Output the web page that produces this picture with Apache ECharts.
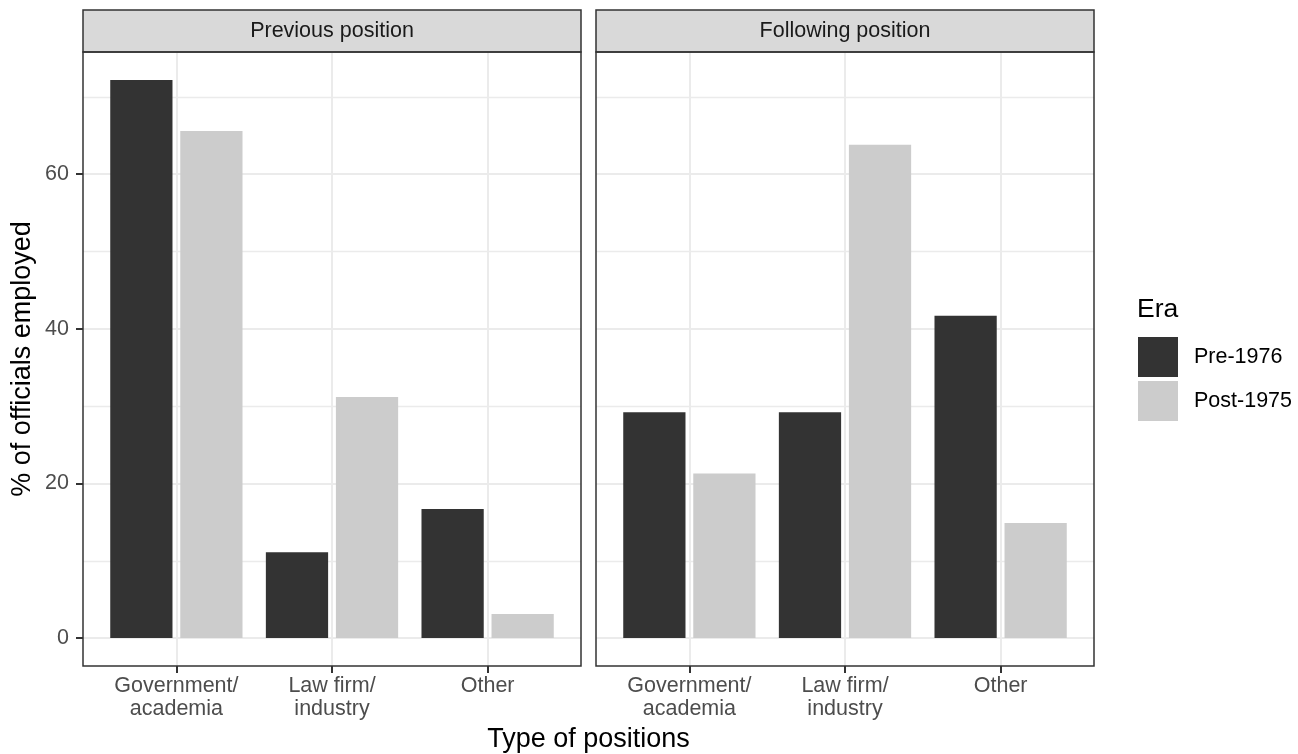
<!DOCTYPE html>
<html><head><meta charset="utf-8">
<script src="https://cdn.jsdelivr.net/npm/echarts@6/dist/echarts.min.js"></script>
<style>html,body{margin:0;padding:0;background:#fff}#c{width:1298px;height:754px}</style>
</head><body><div id="c"></div>
<script>
// ---- data ----
const facets = ['Previous position', 'Following position'];
const categories = ['Government/\nacademia', 'Law firm/\nindustry', 'Other'];
const eras = ['Pre-1976', 'Post-1975'];
const prevPre = [72.2, 11.1, 16.7];
const prevPost = [65.6, 31.2, 3.1];
const follPre = [29.2, 29.2, 41.7];
const follPost = [21.3, 63.8, 14.9];
const yTicks = [0, 20, 40, 60];
const xTitle = 'Type of positions';
const yTitle = '% of officials employed';
const legendTitle = 'Era';
const colors = ['#333333', '#CCCCCC'];

// ---- layout / style ----
const FONT = "'Liberation Sans', Arial, Helvetica, sans-serif";
const panelData = [[prevPre, prevPost], [follPre, follPost]];
const dataMax = Math.max(...prevPre, ...prevPost, ...follPre, ...follPost);
const yMin = -0.05 * dataMax, yMax = dataMax * 1.05;
const tickStep = yTicks[1] - yTicks[0];
const panelLefts = [83, 596], panelW = 498, panelTop = 52, panelH = 614, stripTop = 10;
const band = panelW / (categories.length - 1 + 1.2);

const grid = [], xAxis = [], yAxis = [], series = [], elements = [];
facets.forEach((f, p) => {
  const L = panelLefts[p];
  const gFrame = grid.length;
  grid.push({left: L, top: panelTop, width: panelW, height: panelH, show: false, containLabel: false, outerBoundsMode: 'none'});
  const gData = grid.length;
  grid.push({left: L + 0.6 * band, top: panelTop, width: (categories.length - 1) * band, height: panelH, show: false, containLabel: false, outerBoundsMode: 'none'});
  xAxis.push({gridIndex: gFrame, type: 'value', min: 0, max: 1, show: false});
  yAxis.push({
    gridIndex: gFrame, type: 'value', min: yMin, max: yMax,
    splitNumber: 4, minInterval: tickStep, maxInterval: tickStep,
    axisLine: {show: false},
    axisTick: {show: p === 0, customValues: yTicks, length: 7, lineStyle: {color: '#333333', width: 2}},
    axisLabel: {show: p === 0, customValues: yTicks,
      fontSize: 21.5, color: '#4D4D4D', margin: 14, fontFamily: FONT},
    splitLine: {show: true, lineStyle: {color: '#EBEBEB', width: 2}},
    minorTick: {show: false, splitNumber: 2},
    minorSplitLine: {show: true, lineStyle: {color: '#EBEBEB', width: 1.3}}
  });
  xAxis.push({
    gridIndex: gData, type: 'category', data: categories, boundaryGap: false,
    position: 'bottom',
    axisLine: {show: false, onZero: false},
    axisTick: {show: true, interval: 0, length: 7, lineStyle: {color: '#333333', width: 2}},
    axisLabel: {interval: 0, fontSize: 21.5, color: '#4D4D4D', lineHeight: 23, margin: 9, fontFamily: FONT},
    splitLine: {show: true, interval: 0, lineStyle: {color: '#EBEBEB', width: 2}}
  });
  yAxis.push({gridIndex: gData, type: 'value', min: yMin, max: yMax, show: false});
  eras.forEach((e, k) => {
    series.push({
      type: 'bar', name: e, xAxisIndex: gData, yAxisIndex: gData,
      data: panelData[p][k], barWidth: '40%', barGap: '12.5%', clip: false,
      itemStyle: {color: colors[k]}, emphasis: {disabled: true}, z: 2
    });
  });
  // strip
  elements.push({type: 'rect', z: 20, shape: {x: L, y: stripTop, width: panelW, height: panelTop - stripTop},
    style: {fill: '#D9D9D9', stroke: '#333333', lineWidth: 1.5}});
  elements.push({type: 'text', z: 21, x: L + panelW / 2, y: (stripTop + panelTop) / 2,
    style: {text: f, fill: '#1A1A1A', fontSize: 21.5, fontFamily: FONT, align: 'center', verticalAlign: 'middle'}});
  // panel border
  elements.push({type: 'rect', z: 20, shape: {x: L, y: panelTop, width: panelW, height: panelH},
    style: {fill: 'transparent', stroke: '#333333', lineWidth: 1.5}});
});

elements.push({type: 'text', z: 21, x: (panelLefts[0] + panelLefts[1] + panelW) / 2, y: 740,
  style: {text: xTitle, fill: '#000000', fontSize: 27, fontFamily: FONT, align: 'center', verticalAlign: 'middle'}});
elements.push({type: 'text', z: 21, x: 23, y: panelTop + panelH / 2, rotation: Math.PI / 2,
  style: {text: yTitle, fill: '#000000', fontSize: 27, fontFamily: FONT, align: 'center', verticalAlign: 'middle'}});
elements.push({type: 'text', z: 21, x: 1137, y: 310,
  style: {text: legendTitle, fill: '#000000', fontSize: 26.5, fontFamily: FONT, align: 'left', verticalAlign: 'middle'}});

const chart = echarts.init(document.getElementById('c'), null, {renderer: 'canvas'});
chart.setOption({
  animation: false,
  backgroundColor: '#ffffff',
  textStyle: {fontFamily: FONT},
  grid, xAxis, yAxis, series,
  legend: {
    data: eras, orient: 'vertical', left: 1138, top: 337, padding: 0,
    itemWidth: 40, itemHeight: 40, itemGap: 4, icon: 'rect', selectedMode: false,
    textStyle: {fontSize: 21.5, color: '#000000', fontFamily: FONT, padding: [0, 0, 0, 11]}
  },
  graphic: {elements}
});
</script>
</body></html>
